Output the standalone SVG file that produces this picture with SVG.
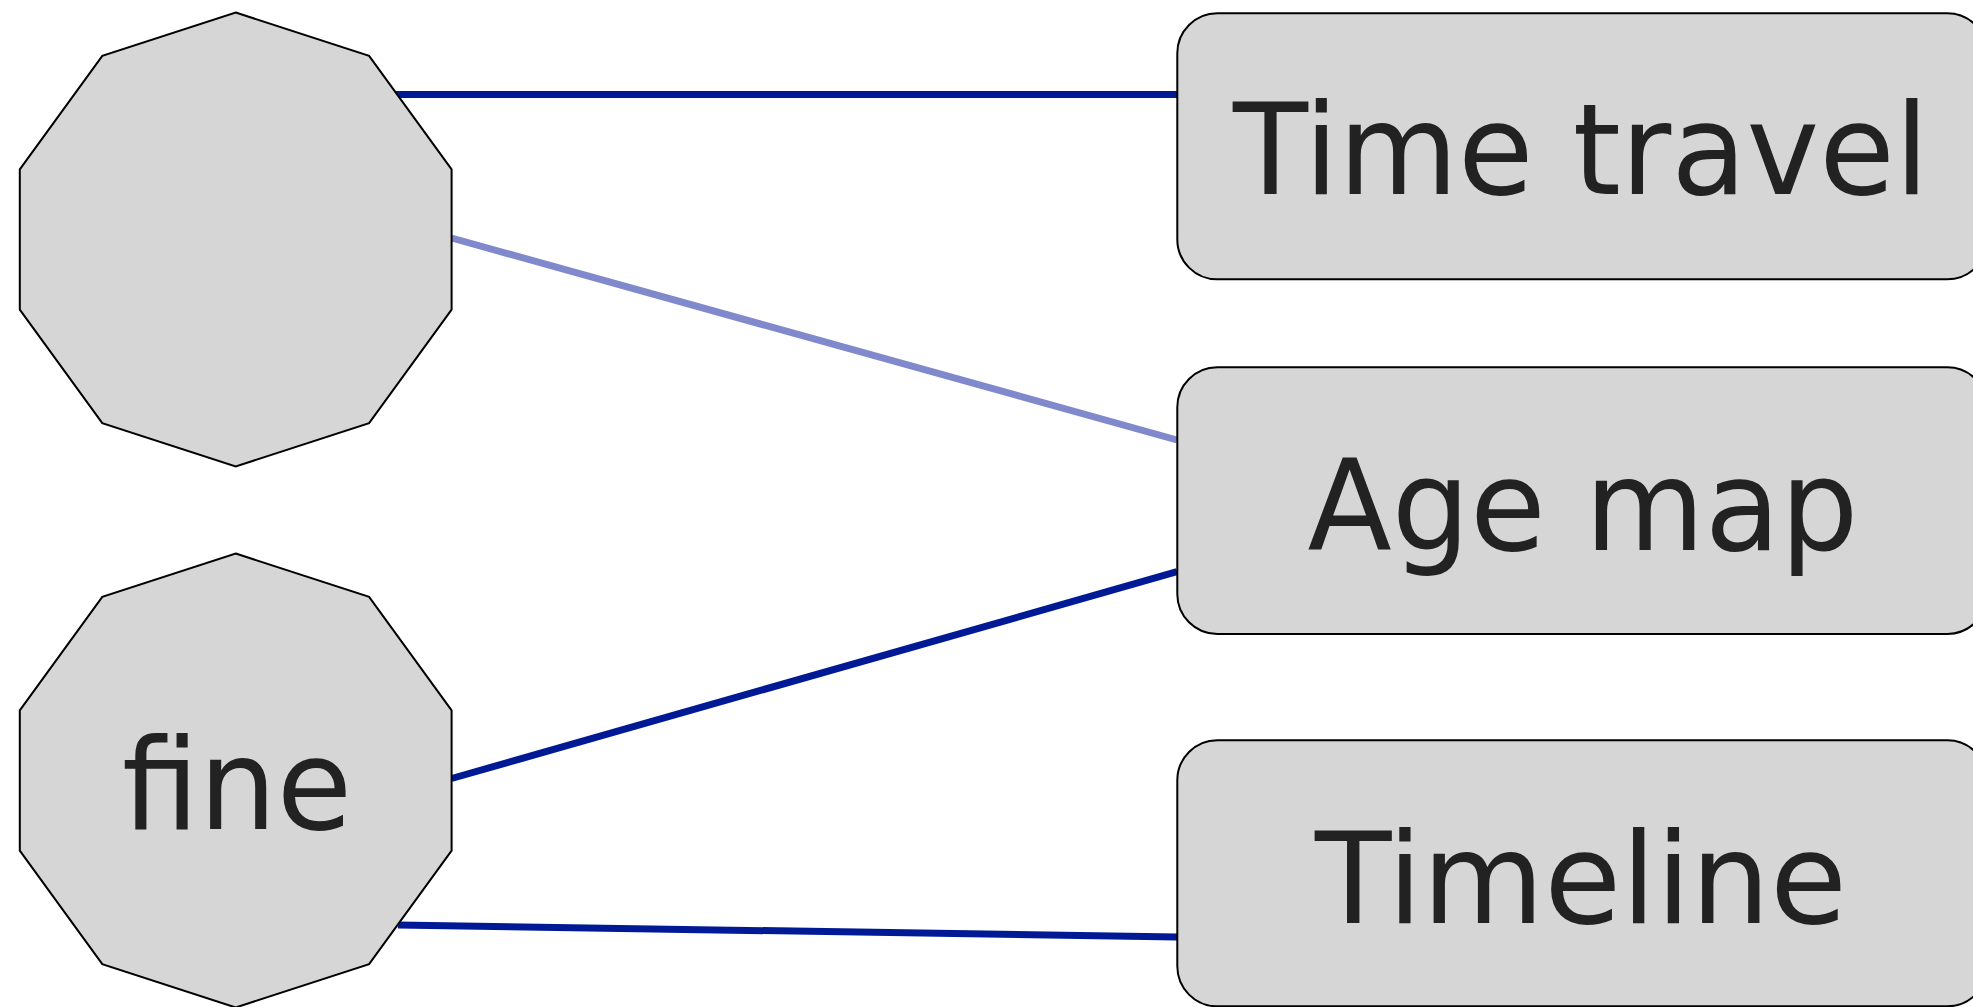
<svg xmlns="http://www.w3.org/2000/svg" width="1973" height="1007" viewBox="0 0 1973 1007">
<style>
.node{fill:#d6d6d6;stroke:#000;stroke-width:2}
.lbl{font-family:"DejaVu Sans",sans-serif;font-size:127px;fill:#222;text-anchor:middle}
.edge{fill:none;stroke:#001a96;stroke-width:7}
.edge.light{stroke:#8089cb}
</style>
<rect width="1973" height="1007" fill="#fff"/>
<g id="connectors">
<line class="edge" x1="396" y1="94.5" x2="1177" y2="94.5"/>
<line class="edge light" x1="451.6" y1="238" x2="1177" y2="440"/>
<line class="edge" x1="451.6" y1="778.5" x2="1177" y2="571.7"/>
<line class="edge" x1="397.9" y1="925" x2="1177" y2="937"/>
</g>
<g id="node-octagon-top">
<polygon class="node" points="235.7,12.5 369.1,55.9 451.6,169.4 451.6,309.6 369.1,423.1 235.7,466.5 102.3,423.1 19.8,309.6 19.8,169.4 102.3,55.9"/>
</g>
<g id="node-fine">
<polygon class="node" points="235.7,553.5 369.1,596.9 451.6,710.4 451.6,850.6 369.1,964.1 235.7,1007.5 102.3,964.1 19.8,850.6 19.8,710.4 102.3,596.9"/>
<text class="lbl" x="237" y="829" textLength="230" lengthAdjust="spacingAndGlyphs">fine</text>
</g>
<g id="node-time-travel">
<rect class="node" x="1177.3" y="13.3" width="810" height="266" rx="40" ry="40"/>
<text class="lbl" x="1581" y="194.3" textLength="696" lengthAdjust="spacingAndGlyphs">Time travel</text>
</g>
<g id="node-age-map">
<rect class="node" x="1177.3" y="367.3" width="810" height="266.7" rx="40" ry="40"/>
<text class="lbl" x="1583" y="550" textLength="551" lengthAdjust="spacingAndGlyphs">Age map</text>
</g>
<g id="node-timeline">
<rect class="node" x="1177.3" y="740.3" width="810" height="266" rx="40" ry="40"/>
<text class="lbl" x="1581" y="923" textLength="532" lengthAdjust="spacingAndGlyphs">Timeline</text>
</g>
</svg>
